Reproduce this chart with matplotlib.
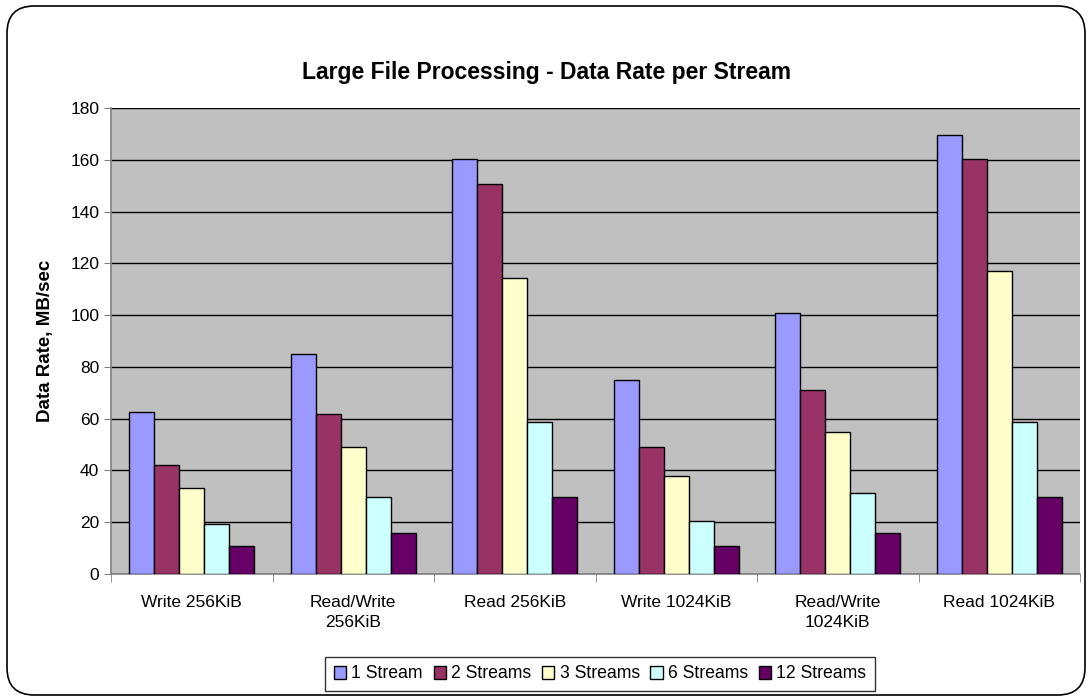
import matplotlib.pyplot as plt
import numpy as np
from matplotlib.patches import FancyBboxPatch

plt.rcParams['font.family'] = ['Liberation Sans', 'DejaVu Sans']

categories = ['Write 256KiB', 'Read/Write\n256KiB', 'Read 256KiB',
              'Write 1024KiB', 'Read/Write\n1024KiB', 'Read 1024KiB']
series = ['1 Stream', '2 Streams', '3 Streams', '6 Streams', '12 Streams']
colors = ['#9999FF', '#993366', '#FFFFCC', '#CCFFFF', '#660066']

s1 = [62.7, 85, 160.3, 75.0, 101.0, 169.4]
s2 = [42.2, 61.7, 150.5, 49.0, 71.2, 160.3]
s3 = [33.3, 48.9, 114.5, 37.9, 55.0, 117.2]
s6 = [19.4, 29.6, 58.8, 20.6, 31.3, 58.8]
s12 = [10.8, 15.7, 29.6, 10.8, 15.7, 29.6]
values = [s1, s2, s3, s6, s12]

fig = plt.figure(figsize=(10.91, 6.98), dpi=100)
frame = FancyBboxPatch((7 / 1091, 3 / 698), 1078 / 1091, 689 / 698,
                       boxstyle='round,pad=0,rounding_size=0.025',
                       transform=fig.transFigure, facecolor='white',
                       edgecolor='black', linewidth=1.2, mutation_aspect=1091 / 698,
                       zorder=-10)
fig.patches.append(frame)

ax = fig.add_axes([111 / 1091, 1 - 574 / 698, 969 / 1091, 466 / 698])
ax.set_facecolor('#C0C0C0')

x = np.arange(len(categories))
w = 0.155
for i, (name, vals) in enumerate(zip(series, values)):
    ax.bar(x + (i - 2) * w, vals, w, color=colors[i], edgecolor='black',
           linewidth=1.0, label=name, zorder=3)

ax.set_xlim(-0.5, len(categories) - 0.5)
ax.set_ylim(0, 180)
ax.set_yticks(range(0, 181, 20))
ax.yaxis.grid(True, color='black', linewidth=1.0, zorder=1)
ax.set_axisbelow(True)

ax.set_xticks(x)
ax.set_xticklabels(categories, fontsize=12.5, linespacing=1.4)
ax.set_xticks(np.arange(-0.5, len(categories), 1), minor=True)
ax.tick_params(axis='x', which='major', length=0, pad=15)
ax.tick_params(axis='x', which='minor', length=6, color='#808080')
ax.tick_params(axis='y', labelsize=12.5, length=5, color='#808080')

for side in ['top', 'right']:
    ax.spines[side].set_visible(False)
for side in ['left', 'bottom']:
    ax.spines[side].set_color('#808080')
    ax.spines[side].set_linewidth(1.2)

ax.set_ylabel('Data Rate, MB/sec', fontsize=13.5, fontweight='bold', labelpad=12)
fig.text(546 / 1091, 1 - 72 / 698, 'Large File Processing - Data Rate per Stream',
         ha='center', va='center', fontsize=16.5, fontweight='bold')

leg = fig.legend(loc='center', bbox_to_anchor=(600 / 1091, 1 - 674 / 698), ncol=5,
                 fontsize=12.7, frameon=True, fancybox=False, handlelength=0.7,
                 handleheight=0.7, handletextpad=0.3, columnspacing=0.6,
                 borderpad=0.5)
leg.get_frame().set_edgecolor('black')
leg.get_frame().set_linewidth(1.0)

fig.savefig('out.png', dpi=100)
